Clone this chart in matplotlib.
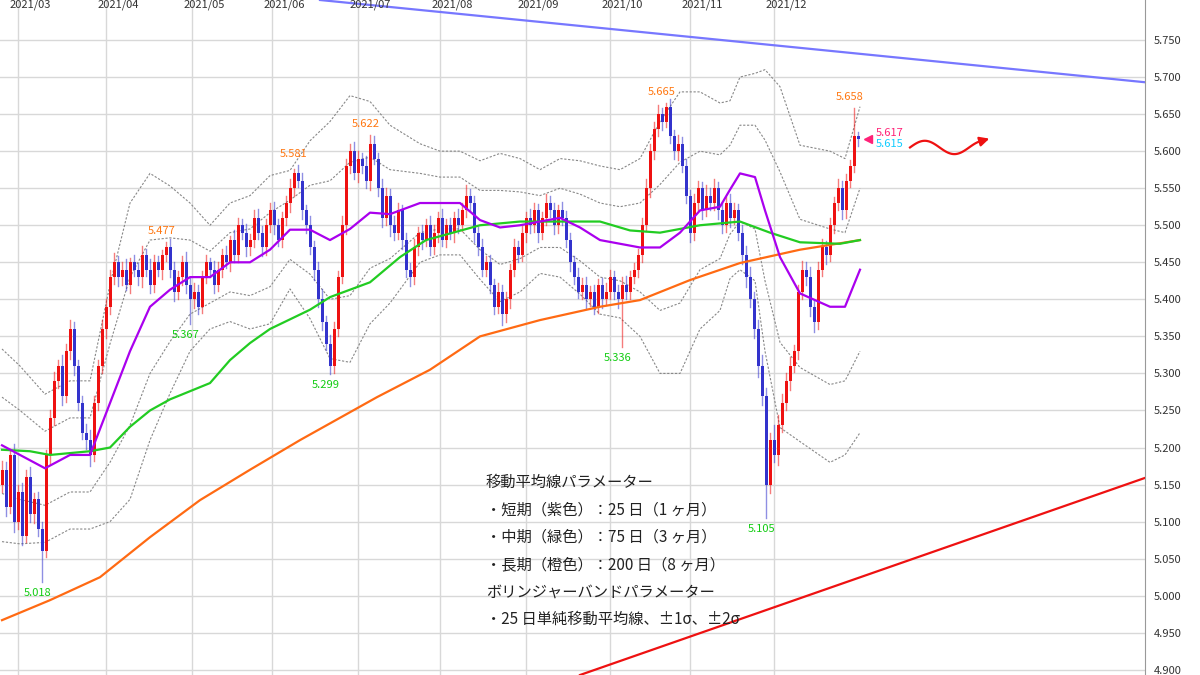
import numpy as np
import matplotlib
matplotlib.use("Agg")
import matplotlib.pyplot as plt

plt.rcParams['font.family'] = ['Noto Sans CJK JP', 'DejaVu Sans']

## daily closes (candle index 0..214), open = previous close
closes = [5.17,5.12,5.19,5.10,5.14,5.08,5.16,5.11,5.13,5.09,5.06,5.19,
          5.24,5.29,5.31,5.27,5.33,5.36,5.31,
          5.26,5.22,5.21,5.19,
          5.26,5.31,5.36,5.39,5.43,
          5.45,5.43,5.44,5.42,5.45,5.44,5.43,5.46,5.44,5.42,5.45,5.44,5.46,5.47,5.44,5.41,5.43,5.45,5.42,5.40,5.41,5.39,5.43,5.45,5.44,5.42,
          5.44,5.46,5.45,5.48,5.46,5.50,5.49,5.47,5.48,5.51,5.49,5.47,5.50,5.52,5.50,5.48,5.51,5.53,5.55,5.57,5.56,
          5.52,5.50,5.47,5.44,5.40,5.37,5.34,5.31,
          5.36,5.43,5.50,5.58,
          5.60,5.57,5.59,5.58,5.56,5.61,5.59,
          5.55,5.51,5.54,5.50,5.49,5.52,5.48,
          5.44,5.43,
          5.47,5.49,5.48,5.50,5.47,5.49,5.51,5.48,5.50,5.49,5.51,5.50,5.52,5.54,5.53,
          5.49,5.47,5.44,5.45,5.42,5.39,5.41,5.38,
          5.40,5.44,5.47,5.46,5.49,5.51,5.50,5.52,5.49,5.51,5.53,5.52,5.50,5.52,5.51,
          5.48,5.45,5.43,5.41,5.42,5.40,5.41,
          5.39,5.42,5.40,5.41,5.43,5.41,5.40,5.42,5.41,5.43,5.44,
          5.46,5.50,5.55,5.60,5.63,5.65,5.64,5.66,
          5.62,5.60,5.61,5.58,5.54,5.49,
          5.53,5.55,5.52,5.54,5.53,5.55,5.52,5.50,5.53,5.51,5.52,5.49,
          5.46,5.43,5.40,5.36,5.31,5.27,5.15,
          5.21,5.19,5.23,5.26,5.29,5.31,5.33,5.41,
          5.44,5.43,5.39,5.37,
          5.44,5.47,5.46,5.50,5.53,5.55,5.52,5.56,5.58,5.62,5.617]
first_open = 5.15
## wick lengths in pips (0.001)
wick_up = [12,10,8,15,9,12,10,14,8,10,9,6,
           10,12,8,15,10,12,9,
           8,10,12,14,
           10,8,12,10,9,
           12,8,10,14,6,10,9,12,8,15,10,9,6,7,12,10,8,9,14,10,12,9,8,10,6,12,
           10,8,12,6,14,10,9,12,8,10,12,9,8,10,12,9,8,10,12,6,11,
           10,8,12,9,10,14,8,12,
           10,8,12,10,
           9,12,10,8,14,12,10,
           8,12,10,9,12,10,8,
           10,9,
           12,8,10,9,12,10,8,12,9,10,8,12,10,14,9,
           10,8,12,9,10,8,12,9,
           10,8,12,9,10,8,12,10,9,8,12,9,10,8,12,
           9,10,8,12,9,10,8,
           10,8,9,12,10,8,9,10,12,8,9,
           8,10,12,9,10,12,8,5,
           10,8,12,9,10,8,
           12,10,9,14,10,12,9,10,8,12,10,9,
           10,12,14,10,12,15,10,
           10,20,14,12,10,12,9,10,
           12,10,14,9,
           10,12,9,10,8,12,10,9,8,38,6]
wick_dn = [10,12,9,14,10,12,8,10,12,9,42,8,
           12,10,9,12,8,10,12,
           10,9,12,15,
           8,10,9,12,10,
           9,12,10,8,12,9,10,14,8,12,10,9,12,8,10,12,9,10,12,33,12,10,9,8,10,12,
           9,10,8,12,10,9,8,12,10,9,8,12,10,9,12,8,10,9,12,10,8,
           12,10,9,14,10,12,9,11,
           9,10,8,12,
           10,8,12,9,10,12,8,
           10,12,9,14,10,8,12,
           10,12,
           9,10,12,8,10,9,12,8,10,9,12,10,8,9,10,
           12,10,9,8,12,10,9,14,
           10,12,9,10,8,12,10,9,12,8,10,9,12,10,9,
           10,12,9,8,10,12,9,
           10,9,12,8,10,9,12,64,10,9,8,
           10,9,8,12,10,9,12,8,
           9,10,12,8,10,12,
           10,9,12,8,10,9,12,10,9,12,8,10,
           12,14,10,12,15,12,45,
           12,10,14,9,10,12,8,10,
           9,10,12,14,
           10,9,12,8,10,9,12,10,9,8,10]

## moving averages / bollinger sigma, sampled at candle indices
ma_idx = [0,4.5,10.75,17,22,27,32,37,42,47,52,57,62,67,72,77,82,87,92,97,
          104.5,109.5,114.5,119.5,124.5,129.5,134.5,139.5,144.5,149.5,154.5,
          159.5,164.5,169.5,174.5,179.5,182,184.5,188.25,190.75,194.5,199.5,
          207,210.75,214.5]
ma25 = [5.203,5.19,5.172,5.19,5.19,5.26,5.33,5.39,5.413,5.43,5.43,5.45,5.45,5.467,
        5.494,5.494,5.48,5.495,5.517,5.515,5.53,5.53,5.53,5.507,5.497,5.50,5.505,
        5.51,5.497,5.48,5.475,5.47,5.47,5.49,5.52,5.525,5.548,5.57,5.565,5.52,
        5.457,5.408,5.39,5.39,5.44]
sigma = [.065,.06,.05,.05,.05,.08,.10,.09,.07,.05,.035,.04,.045,.05,.04,.06,.08,
         .09,.075,.06,.04,.035,.035,.04,.05,.045,.035,.04,.045,.05,.05,.06,.085,
         .095,.08,.07,.06,.065,.07,.095,.115,.10,.105,.10,.11]
ma75_idx = [0,7,12,22,27,32,37,42,52,57,62,67,77,82,92,99.5,106,119.5,129.5,
            139.5,149.5,157,164.5,174.5,184.5,192,199.5,209.5,214.5]
ma75 = [5.197,5.195,5.19,5.195,5.20,5.228,5.25,5.265,5.287,5.318,5.341,5.36,
        5.386,5.403,5.423,5.457,5.48,5.50,5.505,5.505,5.505,5.493,5.49,5.50,
        5.505,5.49,5.477,5.475,5.48]
ma200_idx = [0,12,24.5,37,49.5,62,74.5,93.75,107,119.5,134.5,149.5,159.5,
             172,184.5,199.5,214.5]
ma200 = [4.967,4.994,5.025,5.079,5.129,5.17,5.21,5.268,5.305,5.35,5.372,5.39,
         5.399,5.426,5.449,5.467,5.48]

## trend lines (index, price)
blue_line = ([79.5, 285.75], [5.804, 5.693])
red_line = ([144.5, 285.75], [4.893, 5.159])

## marked highs / lows: (index, price, colour key)
marks = [(10, 5.018, 'lo'), (41, 5.477, 'hi'), (47, 5.367, 'lo'), (74, 5.581, 'hi'),
         (82, 5.299, 'lo'), (92, 5.622, 'hi'), (155, 5.336, 'lo'), (166, 5.665, 'hi'),
         (191, 5.105, 'lo'), (213, 5.658, 'hi')]

month_labels = ['2021/03','2021/04','2021/05','2021/06','2021/07','2021/08',
                '2021/09','2021/10','2021/11','2021/12']
month_idx = [4, 26, 47.5, 67.5, 89, 109.5, 131, 152, 172, 193]

legend_lines = ['移動平均線パラメーター', '・短期（紫色）：25 日（1 ヶ月）',
                '・中期（緑色）：75 日（3 ヶ月）', '・長期（橙色）：200 日（8 ヶ月）',
                'ボリンジャーバンドパラメーター', '・25 日単純移動平均線、±1σ、±2σ']

fig = plt.figure(figsize=(12, 6.75), dpi=100)
ax = fig.add_axes([0, 0, 1145/1200, 1])
ax.set_xlim(-0.5, 285.75)
ax.set_ylim(4.893, 5.804)

yt = np.round(np.arange(4.90, 5.751, 0.05), 3)
ax.set_yticks(yt)
ax.yaxis.tick_right()
ax.set_yticklabels(['%.3f' % v for v in yt], fontsize=8, color='#333333')
ax.tick_params(axis='y', length=0, pad=6)
ax.set_xticks(month_idx)
ax.set_xticklabels([])
ax.tick_params(axis='x', length=0)
ax.grid(True, color='#d8d8d8', linewidth=1)
ax.set_axisbelow(True)
for s in ['top', 'bottom', 'left']:
    ax.spines[s].set_visible(False)
ax.spines['right'].set_color('#999999')

for lab, mi in zip(month_labels, month_idx):
    ax.text(mi + 3, 5.797, lab, fontsize=8, ha='center', va='center', color='#333333')

# candles
opens = [first_open] + closes[:-1]
for i, (o, c) in enumerate(zip(opens, closes)):
    col = '#ee1111' if c >= o else '#3333cc'
    hi = max(o, c) + wick_up[i] / 1000
    lo = min(o, c) - wick_dn[i] / 1000
    ax.plot([i, i], [lo, hi], color=col, alpha=0.55, linewidth=1, zorder=3)
    ax.bar(i, max(abs(c - o), 0.002), bottom=min(o, c), width=0.75, color=col, zorder=4)

# bollinger bands
m = np.array(ma25)
sd = np.array(sigma)
for k in [-2, -1, 1, 2]:
    ax.plot(ma_idx, m + k * sd, color='#888888', linestyle=(0, (2, 1.5)), linewidth=0.8, zorder=2)

ax.plot(ma200_idx, ma200, color='#ff6a13', linewidth=1.6, zorder=5)
ax.plot(ma75_idx, ma75, color='#22cc22', linewidth=1.6, zorder=5)
ax.plot(ma_idx, ma25, color='#aa00ee', linewidth=1.6, zorder=5)

ax.plot(*blue_line, color='#7777ff', linewidth=1.6)
ax.plot(*red_line, color='#ee1111', linewidth=1.6)

for i, p, kind in marks:
    if kind == 'hi':
        ax.text(i - 1, p + 0.008, '%.3f' % p, color='#ff7711', fontsize=8, ha='center', va='bottom')
    else:
        ax.text(i - 1, p - 0.008, '%.3f' % p, color='#11cc11', fontsize=8, ha='center', va='top')

last = closes[-1]
ax.plot(216.5, last, marker='<', color='#ff2277', markersize=6)
ax.text(218.5, last + 0.001, '%.3f' % last, color='#ff2277', fontsize=8, va='bottom')
ax.text(218.5, last - 0.001, '5.615', color='#11ccff', fontsize=8, va='top')

# wavy arrow
wx = np.linspace(227, 244, 60)
wy = 5.605 + 0.009 * np.sin((wx - 227) / 17 * 2.3 * np.pi)
ax.plot(wx, wy, color='#ee1111', linewidth=1.6)
ax.annotate('', xy=(247.5, 5.618), xytext=(wx[-1], wy[-1]),
            arrowprops=dict(arrowstyle='-|>', color='#ee1111', lw=1.6, mutation_scale=14))

for n, line in enumerate(legend_lines):
    ax.text(121, 5.153 - n * 0.037, line, fontsize=11, va='center', color='#222222')

fig.savefig('out.png', dpi=100)
